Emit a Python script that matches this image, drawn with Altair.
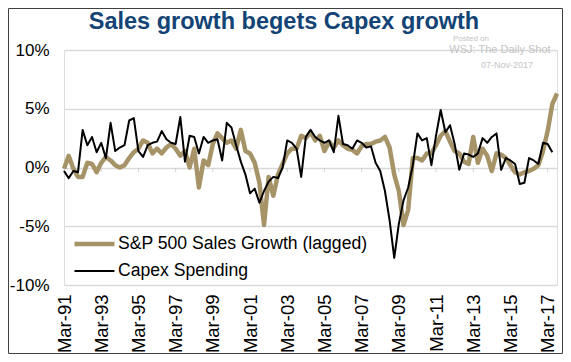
import altair as alt
import pandas as pd

# ---------------- data ----------------
quarters = pd.date_range("1991-03-01", periods=107, freq="3MS")

sales = [-0.1, 1.0, -0.1, -0.8, -0.8, 0.4, 0.3, -0.4, 0.4, 0.9,
         0.6, 0.2, 0.0, 0.2, 0.8, 1.3, 1.6, 2.3, 2.1, 1.2,
         1.6, 1.2, 1.7, 2.0, 1.6, 1.0, 1.4, 0.0, 1.6, -1.7,
         0.6, 0.2, 2.0, 2.9, 2.5, 2.1, 2.3, 1.6, 3.2, 1.4,
         1.2, 0.4, -1.3, -4.9, -0.8, -2.4, -0.6, 0.3, 1.2, 1.6,
         1.6, 2.7, 2.5, 3.0, 2.3, 2.7, 1.4, 2.2, 1.7, 2.3,
         1.9, 1.6, 1.5, 1.2, 1.8, 2.0, 2.0, 2.2, 2.3, 2.6,
         1.7, -0.6, -2.0, -4.9, -3.6, 0.8, 0.8, 0.6, 1.2, 1.2,
         1.9, 2.7, 3.1, 2.2, 1.4, 1.2, 0.5, 0.3, 2.6, 0.4,
         1.6, 1.0, -0.3, 1.2, 1.1, 0.8, 0.2, -0.4, -0.6, -0.4,
         -0.3, -0.1, 0.2, 1.4, 3.1, 5.4, 6.3]

capex = [-0.3, -0.9, -0.3, -0.4, 3.2, 1.9, 2.6, 1.3, 2.1, 0.8,
         3.8, 1.4, 1.7, 1.9, 4.0, 4.2, 1.4, 0.9, 1.9, 2.1,
         2.2, 3.1, 2.4, 2.1, 2.0, 4.3, 0.5, 2.7, 2.6, 1.2,
         2.6, 2.1, 2.3, 2.4, 0.6, 3.8, 3.4, 1.9, 0.5, -0.6,
         -2.2, -1.8, -3.0, -2.0, -1.2, -0.8, -0.9, 0.0, 2.3, 2.1,
         1.6, -0.8, 2.6, 3.2, 2.6, 2.3, 2.1, 2.3, 1.3, 4.4,
         2.0, 1.9, 1.6, 2.3, 2.1, 1.7, 1.8, 0.4, -0.3, -2.0,
         -4.5, -7.7, -4.8, -2.8, -1.7, 0.2, 2.9, 2.3, 2.5, 0.2,
         2.7, 4.9, 3.0, 3.6, 2.0, -0.2, 1.2, 1.1, 0.9, 1.2,
         2.5, 2.1, 2.6, 2.9, -0.2, 0.8, 0.6, 0.3, -1.4, -1.3,
         0.8, 0.6, 0.3, 2.1, 2.0, 1.3]

series_names = ["S&P 500 Sales Growth (lagged)", "Capex Spending"]
series_colors = ["#A69468", "#000000"]
series_widths = [4.5, 2]
tick_years = list(range(1991, 2018, 2))
y_ticks = [-10, -5, 0, 5, 10]
title_text = "Sales growth begets Capex growth"
watermark = ["Posted on", "WSJ: The Daily Shot", "07-Nov-2017"]

rows = []
for d, v in zip(quarters, sales):
    rows.append({"date": d, "value": v, "series": series_names[0]})
for d, v in zip(quarters[:len(capex)], capex):
    rows.append({"date": d, "value": v, "series": series_names[1]})
df = pd.DataFrame(rows)

FONT = "Liberation Sans"
W, H = 493, 235

x_scale = alt.Scale(domain=[alt.DateTime(year=1991, month=3, date=1),
                            alt.DateTime(year=2017, month=9, date=1)])
tick_vals = [alt.DateTime(year=y, month=3, date=1) for y in tick_years]

legend_cfg = dict(
    title=None, orient="none", legendX=8, legendY=184,
    direction="vertical", symbolType="stroke", symbolSize=1600,
    labelFontSize=17.6, labelFont=FONT, labelColor="#000000",
    labelLimit=400, labelOffset=1, clipHeight=20, rowPadding=7,
    padding=0,
)
color_enc = alt.Color(
    "series:N",
    scale=alt.Scale(domain=series_names, range=series_colors),
    legend=alt.Legend(**legend_cfg),
)
width_enc = alt.StrokeWidth(
    "series:N",
    scale=alt.Scale(domain=series_names, range=series_widths),
    legend=alt.Legend(**legend_cfg),
)

x_main = alt.X(
    "date:T", scale=x_scale, title=None,
    axis=alt.Axis(values=tick_vals, format="%b-%y", labelAngle=270,
                  labelFontSize=18.5, labelFont=FONT, labelColor="#000000",
                  labelPadding=9, labelOverlap=False, ticks=False,
                  domain=False, grid=False),
)
y_main = alt.Y(
    "value:Q", scale=alt.Scale(domain=[-10, 10], nice=False), title=None,
    axis=alt.Axis(values=y_ticks, labelExpr="datum.value + '%'",
                  labelFontSize=17, labelFont=FONT, labelColor="#000000",
                  labelPadding=15, ticks=False, domain=False,
                  grid=True, gridColor="#D9D9D9", gridWidth=1.5),
)

base = alt.Chart(df)

tan_line = base.transform_filter(
    alt.datum.series == series_names[0]
).mark_line(strokeJoin="round").encode(
    x=x_main, y=y_main, color=color_enc, strokeWidth=width_enc
)

black_line = base.transform_filter(
    alt.datum.series == series_names[1]
).mark_line(strokeJoin="round").encode(
    x=x_main, y=y_main, color=color_enc, strokeWidth=width_enc
)

# small tick marks hanging under the zero line
tick_df = pd.DataFrame({"date": [pd.Timestamp(f"{y}-03-01") for y in tick_years],
                        "zero": [0] * len(tick_years)})
zero_ticks = alt.Chart(tick_df).mark_tick(
    orient="vertical", size=4, thickness=1, color="#BFBFBF", yOffset=2.5
).encode(x=x_main, y=alt.Y("zero:Q"))

one = pd.DataFrame({"k": [0]})

title_mark = alt.Chart(one).mark_text(
    text=title_text, font=FONT, fontSize=23.5, fontWeight="bold",
    color="#134475", align="center", baseline="alphabetic"
).encode(x=alt.value(220), y=alt.value(-21))

wm1 = alt.Chart(one).mark_text(text=watermark[0], font=FONT, fontSize=8,
                               color="#C4C4C4").encode(
    x=alt.value(407), y=alt.value(-11))
wm2 = alt.Chart(one).mark_text(text=watermark[1], font=FONT, fontSize=11,
                               color="#C4C4C4").encode(
    x=alt.value(436), y=alt.value(0))
wm3 = alt.Chart(one).mark_text(text=watermark[2], font=FONT, fontSize=9,
                               color="#C4C4C4").encode(
    x=alt.value(443), y=alt.value(15))

frame = alt.Chart(one).mark_rect(filled=False, stroke="#404040",
                                 strokeWidth=1).encode(
    x=alt.value(-55.5), x2=alt.value(498.5),
    y=alt.value(-41.5), y2=alt.value(303.5))

chart = alt.layer(
    tan_line, zero_ticks, black_line, title_mark, wm1, wm2, wm3, frame
).properties(
    width=W, height=H,
    autosize=alt.AutoSizeParams(type="none"),
    padding={"left": 56, "top": 42, "right": 6, "bottom": 69},
).configure_view(stroke=None).configure(background="white")

chart.save("out.html", embed_options={"renderer": "svg", "actions": False})
